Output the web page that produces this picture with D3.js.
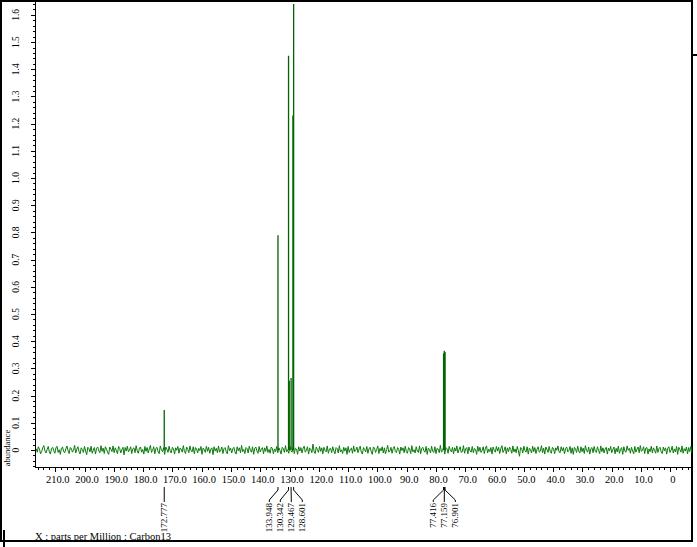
<!DOCTYPE html>
<meta charset="utf-8">
<style>

  body {
      margin: 0;
      background: #fff;
  }

  svg {
      display: block;
      font-family: "Liberation Serif", "DejaVu Serif", serif;
  }

  .axis path,
  .axis line {
      fill: none;
      stroke: #000;
      shape-rendering: crispEdges;
  }

  .frame {
      fill: none;
      stroke: #000;
      stroke-width: 1.5px;
      shape-rendering: crispEdges;
  }

  .noise {
      fill: none;
      stroke: #0a7a0a;
      stroke-width: 1px;
  }

  .peak {
      stroke: #006400;
      stroke-width: 1.3px;
  }

  .leader {
      fill: none;
      stroke: #000;
      stroke-width: 1px;
  }

</style>

<body>

<script src="https://d3js.org/d3.v7.min.js"></script>
<script>

  // peak list (ppm, abundance)
  var peakPpm    = [172.777, 133.948, 130.342, 130.10, 129.467, 128.85, 128.601, 77.416, 77.159, 76.901];
  var peakHeight = [0.147,   0.79,    1.45,    0.255,  0.265,   1.23,   1.64,    0.355,  0.365,  0.36];

  // labelled peaks, grouped the way the printout groups them
  var labelGroups = [
      ["172.777"],
      ["133.948", "130.342", "129.467", "128.601"],
      ["77.416", "77.159", "76.901"]
  ];

  // axis ticks
  var xMajorTicks = [210, 200, 190, 180, 170, 160, 150, 140, 130, 120, 110, 100, 90, 80, 70, 60, 50, 40, 30, 20, 10, 0];
  var yMajorTicks = [0, 0.1, 0.2, 0.3, 0.4, 0.5, 0.6, 0.7, 0.8, 0.9, 1.0, 1.1, 1.2, 1.3, 1.4, 1.5, 1.6];

  // baseline noise (abundance units)
  var noiseStart = 216.5, noiseStep = 0.375;
  var noise = [
    .005,-.008,.012,.003,-.014,-.006,.009,.016,-.004,-.011,.002,.013,-.007,-.015,.006,.010,-.003,-.012,.008,.014,-.009,.001,-.016,.007,.011,-.005,-.010,.004,.015,-.002,
    -.013,.009,.006,-.008,-.001,.017,-.011,.003,.012,-.006,-.014,.008,.002,-.009,.013,-.004,-.017,.010,.005,-.007,.014,-.012,.000,.009,-.015,.006,.011,-.003,-.010,.016,
    -.005,.007,-.013,.012,.004,-.009,-.016,.011,.003,-.006,.015,-.010,.008,-.002,-.014,.013,.006,-.011,.001,.010,-.018,.009,-.004,.014,-.007,-.001,.012,-.013,.005,.008,
    -.010,.016,-.003,-.012,.007,.011,-.008,.002,-.015,.013,-.005,.009,-.011,.004,.017,-.009,-.002,.012,-.014,.006,.010,-.007,-.013,.015,.001,-.006,.008,-.016,.011,.003,
    -.009,.014,-.004,-.011,.010,.005,-.015,.008,-.001,.013,-.012,.007,.003,-.008,.016,-.006,-.013,.011,.002,-.010,.015,-.003,-.007,.012,-.014,.009,.004,-.011,.006,-.002,
    .013,-.016,.007,.001,-.009,.014,-.005,.010,-.012,.003,.008,-.017,.012,-.004,.006,-.010,.015,-.008,-.001,.011,-.013,.005,.009,-.006,-.014,.016,-.002,.007,-.011,.004,
    .010,-.007,-.015,.012,-.003,.008,-.010,.017,-.006,.002,-.013,.009,.005,-.011,.014,-.001,-.008,.012,-.016,.006,.011,-.004,-.012,.013,-.007,.003,.009,-.014,.008,-.005,
    .015,-.009,.002,-.012,.011,.006,-.014,.004,-.006,.013,-.010,.008,-.002,-.015,.010,.005,-.009,.016,-.007,.001,-.012,.014,-.003,-.008,.011,-.013,.007,.003,-.016,.012,
    -.004,.009,-.011,.006,.014,-.008,-.001,.012,-.015,.007,.003,-.010,.022,-.006,-.013,.011,.002,-.009,.013,-.005,.008,-.014,.010,-.002,-.007,.015,-.012,.004,.006,-.010,
    .012,-.003,-.014,.009,.005,-.011,.016,-.007,.001,-.013,.010,-.004,.008,-.016,.013,-.009,.003,.007,-.012,.015,-.006,-.001,.011,-.010,.004,.014,-.008,-.015,.009,.002,
    -.007,.013,-.012,.004,.010,-.005,-.016,.011,.007,-.009,.002,.015,-.013,.006,-.003,.012,-.011,.008,-.014,.001,.017,-.008,-.004,.010,-.012,.005,.013,-.006,-.010,.009,
    .003,-.015,.011,-.002,.008,-.010,.014,-.006,-.012,.009,.004,-.013,.016,-.007,.001,-.011,.012,-.004,-.009,.015,-.014,.006,.010,-.003,-.008,.013,-.016,.007,.002,-.011,
    .014,-.005,-.009,.012,-.013,.006,.003,-.010,.017,-.008,-.002,.011,-.015,.009,.005,-.012,.013,-.001,-.007,.010,-.014,.008,-.004,.015,-.011,.002,.012,-.009,-.006,.016,
    -.012,.004,.009,-.014,.011,-.003,-.008,.013,-.010,.006,.001,-.016,.014,-.005,.010,-.009,-.002,.012,-.013,.007,.015,-.011,.003,-.006,.009,-.015,.011,-.001,-.008,.013,
    -.004,.010,-.013,.005,.016,-.009,-.001,.012,-.014,.008,-.006,.011,.002,-.012,.015,-.007,.004,-.010,.013,-.003,-.023,.009,.006,-.011,.014,-.002,-.008,.012,-.015,.007,
    .001,-.011,.014,-.006,.009,-.013,.003,.012,-.008,-.004,.016,-.010,.007,-.015,.011,.002,-.009,.013,-.005,-.012,.010,.006,-.014,.008,-.001,.015,-.007,-.010,.012,-.003,
    .009,-.014,.005,.011,-.007,-.002,.013,-.012,.008,-.016,.010,.003,-.009,.014,-.004,-.011,.012,-.006,.007,-.013,.016,-.001,-.008,.011,-.015,.005,.009,-.010,.013,-.005,
    -.009,.012,-.002,-.013,.015,-.006,.008,-.011,.004,.010,-.015,.007,-.003,.013,-.010,.001,.011,-.014,.006,-.007,.014,-.012,.002,.009,-.016,.012,-.005,-.008,.015,-.001,
    .006,-.012,.010,-.004,-.014,.013,-.008,.003,.011,-.010,.016,-.005,-.001,.012,-.013,.007,.009,-.015,.004,-.006,.014,-.011,.008,-.002,-.012,.015,-.009,.005,.010,-.007,
    -.013,.011,-.003,.008,-.015,.006,.012,-.009,-.001,.014,-.011,.004,-.007,.013,-.016,.010,.002,-.008,.015,-.012,.005,-.004,.011,-.014,.009,-.006,.013,-.010,.003,-.005
  ];

  var W = 697, H = 547;
  var margin = { left: 35, right: 692, top: 1, bottom: 467 };

  var x = d3.scaleLinear()
      .domain([216.9, -7.4])
      .range([margin.left, margin.right]);

  var y = d3.scaleLinear()
      .domain([-0.0625, 1.651])
      .range([margin.bottom, margin.top]);

  var svg = d3.select("body").append("svg")
      .attr("width", W)
      .attr("height", H);

  // outer frame of the printout
  svg.append("rect")
      .attr("class", "frame")
      .attr("x", 1)
      .attr("y", 1)
      .attr("width", 691)
      .attr("height", 540);

  svg.append("line")
      .attr("class", "frame")
      .attr("x1", 692).attr("x2", 697)
      .attr("y1", 55).attr("y2", 55);

  svg.append("line")
      .attr("class", "frame")
      .attr("x1", 4).attr("x2", 4)
      .attr("y1", 530).attr("y2", 547);

  svg.append("clipPath")
      .attr("id", "plot")
      .append("rect")
      .attr("x", margin.left + 1)
      .attr("y", 0)
      .attr("width", margin.right - margin.left - 1)
      .attr("height", margin.bottom);

  // baseline noise
  var line = d3.line()
      .x(function(d, i) { return x(noiseStart - i * noiseStep); })
      .y(function(d) { return y(d); });

  svg.append("path")
      .datum(noise)
      .attr("class", "noise")
      .attr("clip-path", "url(#plot)")
      .attr("d", line);

  // peaks
  svg.append("g")
      .selectAll("line")
      .data(peakPpm)
      .enter().append("line")
      .attr("class", "peak")
      .attr("x1", function(d) { return x(d); })
      .attr("x2", function(d) { return x(d); })
      .attr("y1", y(0))
      .attr("y2", function(d, i) { return y(peakHeight[i]); });

  // x axis
  var xAxis = d3.axisBottom(x)
      .tickValues(xMajorTicks)
      .tickSize(5)
      .tickFormat(function(d) { return d === 0 ? "0" : d.toFixed(1); });

  var xMinor = d3.axisBottom(x)
      .tickValues(d3.range(-6, 217, 2))
      .tickSize(3)
      .tickFormat("");

  var gx = svg.append("g")
      .attr("class", "x axis")
      .attr("transform", "translate(0," + margin.bottom + ")");
  gx.call(xMinor);
  gx.append("g").call(xAxis);
  gx.selectAll(".domain").attr("d", "M" + margin.left + ",0.5H" + margin.right);
  gx.selectAll("text")
      .attr("y", 9)
      .attr("dx", 2)
      .style("font-family", "Liberation Serif, serif")
      .style("font-size", "10.5px")
      .attr("fill", "#000");

  // y axis
  var yAxis = d3.axisLeft(y)
      .tickValues(yMajorTicks)
      .tickSize(4)
      .tickFormat("");

  var yMinor = d3.axisLeft(y)
      .tickValues(d3.range(-0.06, 1.65, 0.02))
      .tickSize(2)
      .tickFormat("");

  var gy = svg.append("g")
      .attr("class", "y axis")
      .attr("transform", "translate(" + margin.left + ",0)");
  gy.call(yMinor);
  gy.append("g").call(yAxis);
  gy.selectAll(".domain").attr("d", "M0.5," + margin.bottom + "V0");

  svg.append("g")
      .selectAll("text")
      .data(yMajorTicks)
      .enter().append("text")
      .attr("transform", function(d) { return "translate(16," + y(d) + ") rotate(-90)"; })
      .attr("text-anchor", "middle")
      .attr("dy", "0.35em")
      .style("font-size", "9.5px")
      .text(function(d) { return d === 0 ? "0" : d.toFixed(1); });

  svg.append("text")
      .attr("transform", "translate(7,448) rotate(-90)")
      .attr("text-anchor", "middle")
      .attr("dy", "0.35em")
      .style("font-size", "8.5px")
      .text("abundance");

  // peak labels with leader lines
  var stemTop = 487, stemBend = 490, labelTop = 500, labelGap = 11;

  labelGroups.forEach(function(group) {
      var px = group.map(function(s) { return x(+s); });
      var mid = (d3.min(px) + d3.max(px)) / 2;
      var g = svg.append("g");

      group.forEach(function(s, i) {
          var lx = mid + (i - (group.length - 1) / 2) * labelGap;
          g.append("path")
              .attr("class", "leader")
              .attr("d", "M" + px[i] + "," + stemTop + "V" + stemBend + "L" + lx + "," + labelTop + "V" + (labelTop + 2));
          g.append("text")
              .attr("transform", "translate(" + lx + "," + (labelTop + 3) + ") rotate(-90)")
              .attr("text-anchor", "end")
              .attr("dy", "0.35em")
              .style("font-size", "9px")
              .text(s);
      });
  });

  svg.append("text")
      .attr("x", 35)
      .attr("y", 540)
      .style("font-size", "10.5px")
      .text("X : parts per Million : Carbon13");

</script>
